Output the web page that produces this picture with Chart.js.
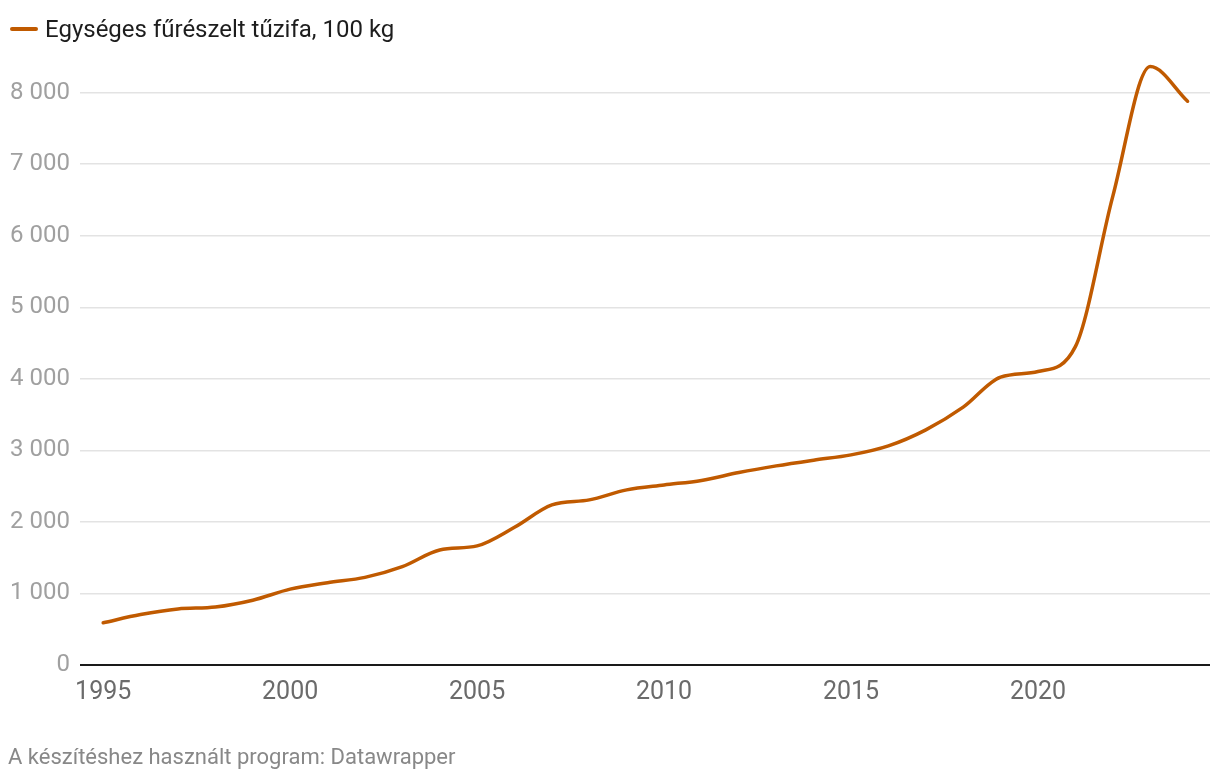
<!DOCTYPE html>
<html>
<head>
<meta charset="UTF-8">
<title>Egységes fűrészelt tűzifa, 100 kg</title>
<script src="https://cdn.jsdelivr.net/npm/chart.js@4.4.1/dist/chart.umd.min.js"></script>
<style type="text/css">
	body { margin: 0; background: #fff; font-family: Roboto, "Noto Sans", sans-serif; }
	#wrap { position: relative; width: 1220px; height: 782px; overflow: hidden; }
	#legend { position: absolute; left: 10px; top: 15px; font-size: 24px; color: #1d1d1d; line-height: 28px; }
	#legend .swatch { display: inline-block; width: 28px; height: 4px; border-radius: 2px; background: #c05a00; vertical-align: middle; margin-right: 7px; position: relative; top: -2px; }
	#footer { position: absolute; left: 8px; top: 743px; font-size: 22px; color: #888; line-height: 28px; }
	#chartBox { position: absolute; left: 0; top: 0; width: 1220px; height: 782px; }
</style>
</head>
<body>
<div id="wrap">
	<div id="chartBox"><canvas id="priceChart"></canvas></div>
	<div id="legend"><span class="swatch"></span>Egységes fűrészelt tűzifa, 100 kg</div>
	<div id="footer">A készítéshez használt program: Datawrapper</div>
</div>

<script type="text/javascript">

	var years = [1995, 1996, 1997, 1998, 1999, 2000, 2001, 2002, 2003, 2004,
	             2005, 2006, 2007, 2008, 2009, 2010, 2011, 2012, 2013, 2014,
	             2015, 2016, 2017, 2018, 2019, 2020, 2021, 2022, 2023, 2024];

	var prices = [590, 705, 783, 810, 905, 1060, 1150, 1225, 1375, 1608,
	              1665, 1925, 2238, 2308, 2448, 2517, 2580, 2690, 2783, 2863,
	              2937, 3063, 3287, 3604, 4024, 4102, 4450, 6550, 8364, 7880];

	var xTicks = [1995, 2000, 2005, 2010, 2015, 2020];
	var yTicks = [0, 1000, 2000, 3000, 4000, 5000, 6000, 7000, 8000];

	function formatThousands(v) {
		return String(v).replace(/\B(?=(\d{3})+(?!\d))/g, " ");
	}

	var points = [];
	for (var i = 0; i < years.length; i++) {
		points.push({ x: years[i], y: prices[i] });
	}

	var ctx = document.getElementById('priceChart').getContext('2d');
	var chartJS = new Chart(ctx, {
		type: 'line',
		data: {
			datasets: [{
				label: 'Egységes fűrészelt tűzifa, 100 kg',
				data: points,
				borderColor: '#c05a00',
				borderWidth: 3.5,
				pointRadius: 0,
				cubicInterpolationMode: 'monotone',
				borderCapStyle: 'round',
				fill: false
			}]
		},
		options: {
			responsive: true,
			maintainAspectRatio: false,
			animation: false,
			layout: { padding: { top: 64, right: 10, bottom: 77, left: 0 } },
			plugins: {
				legend: { display: false },
				tooltip: { enabled: false }
			},
			scales: {
				x: {
					type: 'linear',
					min: 1994.38,
					max: 2024.6,
					afterBuildTicks: function (scale) {
						scale.ticks = xTicks.map(function (v) { return { value: v }; });
					},
					afterFit: function (scale) { scale.height = 40; },
					grid: { display: false, drawTicks: false },
					border: { display: false },
					ticks: {
						padding: 13,
						color: '#6b6b6b',
						font: { family: 'Roboto', size: 25 },
						callback: function (v) { return String(v); }
					}
				},
				y: {
					min: 0,
					max: 8400,
					afterBuildTicks: function (scale) {
						scale.ticks = yTicks.map(function (v) { return { value: v }; });
					},
					afterFit: function (scale) { scale.width = 80; },
					grid: {
						drawTicks: false,
						color: function (c) { return c.tick && c.tick.value === 0 ? '#1a1a1a' : '#e3e3e3'; },
						lineWidth: function (c) { return c.tick && c.tick.value === 0 ? 2 : 1.5; }
					},
					border: { display: false },
					ticks: {
						padding: 10,
						color: '#a0a0a0',
						font: { family: 'Roboto', size: 24 },
						callback: function (v) { return formatThousands(v); }
					}
				}
			}
		}
	});

</script>
</body>
</html>
